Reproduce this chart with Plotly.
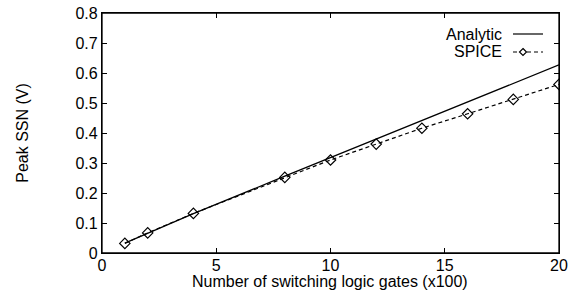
import plotly.graph_objects as go

# Data
gates = [1, 2, 4, 8, 10, 12, 14, 16, 18, 20]
analytic = [0.033, 0.066, 0.131, 0.256, 0.318, 0.380, 0.442, 0.503, 0.565, 0.627]
spice = [0.032, 0.067, 0.132, 0.252, 0.310, 0.363, 0.416, 0.464, 0.512, 0.562]

x_ticks = [0, 5, 10, 15, 20]
y_ticks = [0, 0.1, 0.2, 0.3, 0.4, 0.5, 0.6, 0.7, 0.8]
legend_names = ["Analytic", "SPICE"]
x_title = "Number of switching logic gates (x100)"
y_title = "Peak SSN (V)"

FONT = "Liberation Sans, Arial, sans-serif"
FS = 16

fig = go.Figure()
fig.add_trace(go.Scatter(x=gates, y=analytic, mode="lines", name=legend_names[0],
                         line=dict(color="black", width=1.3), showlegend=False))
fig.add_trace(go.Scatter(x=gates, y=spice, mode="lines+markers", name=legend_names[1],
                         line=dict(color="black", width=1.2, dash="4px,3px"),
                         marker=dict(symbol="diamond-open", size=8, color="black",
                                     line=dict(width=1.2, color="black")),
                         showlegend=False))

axis_common = dict(showline=True, linecolor="black", linewidth=1.3, mirror="ticks",
                   ticks="inside", ticklen=5, tickwidth=1.3, tickcolor="black",
                   showgrid=False, zeroline=False, automargin=False,
                   tickfont=dict(family=FONT, size=FS, color="black"))

fig.update_xaxes(range=[0, 20], tickvals=x_ticks, ticktext=[str(v) for v in x_ticks],
                 ticklabelstandoff=-2, **axis_common)
fig.update_yaxes(range=[0, 0.8], tickvals=y_ticks,
                 ticktext=["0" if v == 0 else f"{v:.1f}" for v in y_ticks],
                 title=dict(text=y_title, font=dict(family=FONT, size=FS, color="black"),
                            standoff=42),
                 **axis_common)

# page pixels of the plot area in the reference
PL, PR, PT, PB = 102, 559, 13, 253
W, H = 572, 297

def px2paper_x(px):
    return (px - PL) / (PR - PL)

def px2paper_y(py):
    return (PB - py) / (PB - PT)

annotations = [dict(x=px2paper_x(330), y=px2paper_y(281), xref="paper", yref="paper",
                    text=x_title, showarrow=False, xanchor="center", yanchor="middle",
                    font=dict(family=FONT, size=FS, color="black"))]

# frame around the plot area
shapes = [dict(type="rect", xref="paper", yref="paper", x0=0, x1=1, y0=0, y1=1,
               line=dict(color="black", width=1.3), layer="above")]

# Manual legend (text to the left of the sample, as in the reference)
rows = [(34, legend_names[0], "solid", False), (52, legend_names[1], "4px,3px", True)]
for py, name, dash, has_marker in rows:
    annotations.append(dict(x=px2paper_x(504), y=px2paper_y(py), xref="paper", yref="paper",
                            text=name, showarrow=False, xanchor="right", yanchor="middle",
                            font=dict(family=FONT, size=FS, color="black")))
    shapes.append(dict(type="line", xref="paper", yref="paper",
                       x0=px2paper_x(513), x1=px2paper_x(543),
                       y0=px2paper_y(py), y1=px2paper_y(py),
                       line=dict(color="black", width=1.2, dash=dash)))
    if has_marker:
        cx, cy = 523, py
        pts = [(cx, cy - 3.5), (cx + 3.5, cy), (cx, cy + 3.5), (cx - 3.5, cy)]
        path = "M " + " L ".join(f"{px2paper_x(a)},{px2paper_y(b)}" for a, b in pts) + " Z"
        shapes.append(dict(type="path", xref="paper", yref="paper", path=path,
                           fillcolor="white", line=dict(color="black", width=1.2)))

fig.update_layout(width=W, height=H,
                  margin=dict(l=PL, r=W - PR, t=PT, b=H - PB),
                  paper_bgcolor="white", plot_bgcolor="white",
                  shapes=shapes, annotations=annotations, showlegend=False)

# remove the default page margin so the figure sits at the window's top-left corner
fig.write_html("out.html", config={"displayModeBar": False},
               post_script="document.body.style.margin='0';document.body.style.padding='0';")
